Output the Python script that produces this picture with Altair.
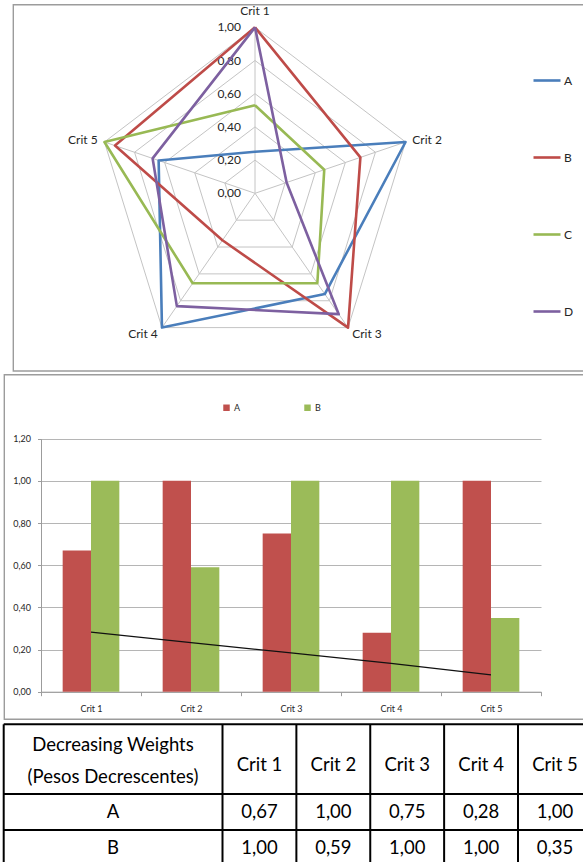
import altair as alt
import pandas as pd

# ---------------------------------------------------------------- data
CRITS = ["Crit 1", "Crit 2", "Crit 3", "Crit 4", "Crit 5"]

# radar profiles
RADAR_SERIES = ["A", "B", "C", "D"]
RADAR_A = [0.25, 1.00, 0.75, 1.00, 0.64]
RADAR_B = [1.00, 0.70, 1.00, 0.35, 0.93]
RADAR_C = [0.53, 0.46, 0.67, 0.67, 1.00]
RADAR_D = [1.00, 0.21, 0.90, 0.84, 0.68]
RADAR_COLORS = ["#4A7EBB", "#BE4B48", "#98B954", "#7D60A0"]
RADAR_LEVELS = [0.0, 0.2, 0.4, 0.6, 0.8, 1.0]

# decreasing weights per criterion
BAR_SERIES = ["A", "B"]
WEIGHT_A = [0.67, 1.00, 0.75, 0.28, 1.00]
WEIGHT_B = [1.00, 0.59, 1.00, 1.00, 0.35]
TREND = [0.283, 0.233, 0.184, 0.134, 0.080]
BAR_COLORS = ["#C0504D", "#9BBB59"]
BAR_TICKS = [0.0, 0.2, 0.4, 0.6, 0.8, 1.0, 1.2]

HEADER = ["Decreasing Weights", "(Pesos Decrescentes)"]

FONT = "Lato"
TEXT = "#262626"
FRAME = "#9C9C9C"
COMMA = "replace(format({v}, '.2f'), '.', ',')"

# ---------------------------------------------------------------- tables
radar_rows = []
for s, vals in zip(RADAR_SERIES, [RADAR_A, RADAR_B, RADAR_C, RADAR_D]):
    for i in range(len(CRITS) + 1):  # repeat first point to close the polygon
        radar_rows.append({"series": s, "idx": i, "value": vals[i % len(CRITS)]})
radar_df = pd.DataFrame(radar_rows)

grid_df = pd.DataFrame(
    [{"level": lv, "idx": i} for lv in RADAR_LEVELS[1:] for i in range(len(CRITS) + 1)]
)
level_df = pd.DataFrame({"level": RADAR_LEVELS})
crit_df = pd.DataFrame({"crit": CRITS, "idx": list(range(len(CRITS)))})

bar_df = pd.DataFrame(
    [{"crit": c, "series": "A", "value": v} for c, v in zip(CRITS, WEIGHT_A)]
    + [{"crit": c, "series": "B", "value": v} for c, v in zip(CRITS, WEIGHT_B)]
)
trend_df = pd.DataFrame({"crit": CRITS, "weight": TREND})
row_df = pd.DataFrame({"row": BAR_SERIES})

ANGLE = "PI / 2 - 2 * PI * datum.idx / 5"

# ---------------------------------------------------------------- frames
one = alt.Data(values=[{}])
frame_top = alt.Chart(one).mark_rect(fillOpacity=0, stroke=FRAME, strokeWidth=1.4).encode(
    x=alt.value(13.3), x2=alt.value(640), y=alt.value(4.7), y2=alt.value(371)
)
frame_bar = alt.Chart(one).mark_rect(fillOpacity=0, stroke=FRAME, strokeWidth=1.4).encode(
    x=alt.value(4.3), x2=alt.value(640), y=alt.value(374.7), y2=alt.value(719.3)
)

# ---------------------------------------------------------------- radar
RX = alt.Scale(domain=[-1, 1], range=[96.7, 413.3], nice=False, zero=False)
RY = alt.Scale(domain=[-1, 1], range=[359.3, 27.3], nice=False, zero=False)


def rx(f):
    return alt.X(f, type="quantitative", scale=RX, axis=None)


def ry(f):
    return alt.Y(f, type="quantitative", scale=RY, axis=None)


grid = (
    alt.Chart(grid_df)
    .transform_calculate(angle=ANGLE)
    .transform_calculate(px="datum.level * cos(datum.angle)", py="datum.level * sin(datum.angle)")
    .mark_line(color="#C4C4C4", strokeWidth=1)
    .encode(x=rx("px"), y=ry("py"), detail="level:N", order="idx:Q")
)

spokes = (
    alt.Chart(crit_df)
    .transform_calculate(angle=ANGLE, cx="0", cy="0")
    .transform_calculate(px="cos(datum.angle)", py="sin(datum.angle)")
    .mark_rule(color="#C4C4C4", strokeWidth=1)
    .encode(x=rx("cx"), y=ry("cy"), x2="px:Q", y2="py:Q")
)

level_labels = (
    alt.Chart(level_df)
    .transform_calculate(cx="0", label=COMMA.format(v="datum.level"))
    .mark_text(font=FONT, fontSize=12, color=TEXT, align="right", baseline="middle", dx=-14)
    .encode(x=rx("cx"), y=ry("level"), text="label:N")
)


def crit_labels(filter_expr, align, radius):
    return (
        alt.Chart(crit_df)
        .transform_filter(filter_expr)
        .transform_calculate(angle=ANGLE)
        .transform_calculate(
            px=f"{radius} * cos(datum.angle)", py=f"{radius} * sin(datum.angle)"
        )
        .mark_text(font=FONT, fontSize=12, color=TEXT, align=align, baseline="middle")
        .encode(x=rx("px"), y=ry("py"), text="crit:N")
    )


lab_top = crit_labels("datum.idx == 0", "center", 1.1)
lab_right = crit_labels("datum.idx == 1 || datum.idx == 2", "left", 1.045)
lab_left = crit_labels("datum.idx == 3 || datum.idx == 4", "right", 1.045)

radar_lines = (
    alt.Chart(radar_df)
    .transform_calculate(angle=ANGLE)
    .transform_calculate(px="datum.value * cos(datum.angle)", py="datum.value * sin(datum.angle)")
    .mark_line(strokeWidth=2.6, strokeJoin="round")
    .encode(
        x=rx("px"),
        y=ry("py"),
        order="idx:Q",
        color=alt.Color(
            "series:N",
            scale=alt.Scale(domain=RADAR_SERIES, range=RADAR_COLORS),
            legend=alt.Legend(
                orient="none",
                legendX=532,
                legendY=65.5,
                direction="vertical",
                title=None,
                symbolType="stroke",
                symbolSize=729,
                symbolStrokeWidth=2.6,
                rowPadding=56,
                labelFont=FONT,
                labelFontSize=12,
                labelColor=TEXT,
                labelOffset=2,
                padding=0,
            ),
        ),
    )
)

radar = alt.layer(grid, spokes, level_labels, lab_top, lab_right, lab_left, radar_lines)

# ---------------------------------------------------------------- bars
BX = alt.Scale(domain=CRITS, range=[41, 541], paddingInner=0, paddingOuter=0)
BY = alt.Scale(domain=[0, 1.2], range=[691.7, 438.7], nice=False)

bar_y_axis = alt.Axis(
    values=BAR_TICKS,
    labelExpr=COMMA.format(v="datum.value"),
    offset=-41,
    grid=True,
    gridColor="#B5B5B5",
    gridWidth=1,
    domainColor=FRAME,
    domainWidth=1,
    tickColor=FRAME,
    tickSize=3.5,
    labelPadding=7,
    labelFont=FONT,
    labelFontSize=9,
    labelColor=TEXT,
    title=None,
)
bar_x_axis = alt.Axis(
    orient="bottom",
    offset=-(862 - 691.7),
    tickBand="extent",
    grid=False,
    domainColor=FRAME,
    domainWidth=1,
    tickColor=FRAME,
    tickSize=4,
    labelPadding=9,
    labelAngle=0,
    labelFont=FONT,
    labelFontSize=9,
    labelColor=TEXT,
    title=None,
)

bars = (
    alt.Chart(bar_df)
    .mark_bar()
    .encode(
        x=alt.X("crit:N", scale=BX, axis=bar_x_axis, sort=CRITS),
        xOffset=alt.XOffset(
            "series:N", scale=alt.Scale(domain=BAR_SERIES, paddingInner=0, paddingOuter=0.765)
        ),
        y=alt.Y("value:Q", scale=BY, axis=bar_y_axis),
        color=alt.Color(
            "series:N",
            scale=alt.Scale(domain=BAR_SERIES, range=BAR_COLORS),
            legend=alt.Legend(
                orient="none",
                legendX=222,
                legendY=403,
                direction="horizontal",
                title=None,
                symbolType="square",
                symbolSize=42,
                symbolStrokeWidth=0,
                columnPadding=62,
                labelFont=FONT,
                labelFontSize=9,
                labelColor=TEXT,
                labelOffset=3,
                padding=0,
            ),
        ),
    )
)

trend = (
    alt.Chart(trend_df)
    .mark_line(color="#111111", strokeWidth=1.2)
    .encode(
        x=alt.X("crit:N", scale=BX, axis=bar_x_axis, sort=CRITS),
        y=alt.Y("weight:Q", scale=BY, axis=bar_y_axis),
    )
)

bar_chart = alt.layer(bars, trend)

# ---------------------------------------------------------------- table
TX = alt.Scale(type="point", domain=CRITS, range=[259.5, 555], padding=0)
TY = alt.Scale(type="point", domain=BAR_SERIES, range=[812, 848], padding=0)

cell_df = pd.DataFrame(
    [{"row": "A", "crit": c, "value": v} for c, v in zip(CRITS, WEIGHT_A)]
    + [{"row": "B", "crit": c, "value": v} for c, v in zip(CRITS, WEIGHT_B)]
)

text_style = dict(font=FONT, fontSize=18.5, color="#000000", baseline="middle", align="center")

head_crit = alt.Chart(crit_df).mark_text(**text_style).encode(
    x=alt.X("crit:N", scale=TX, axis=None), y=alt.value(765), text="crit:N"
)
head_1 = alt.Chart(one).mark_text(**text_style).encode(
    x=alt.value(113), y=alt.value(745), text=alt.value(HEADER[0])
)
head_2 = alt.Chart(one).mark_text(**text_style).encode(
    x=alt.value(113), y=alt.value(777), text=alt.value(HEADER[1])
)
row_labels = alt.Chart(row_df).mark_text(**text_style).encode(
    x=alt.value(113), y=alt.Y("row:N", scale=TY, axis=None), text="row:N"
)
cells = (
    alt.Chart(cell_df)
    .transform_calculate(label=COMMA.format(v="datum.value"))
    .mark_text(**text_style)
    .encode(
        x=alt.X("crit:N", scale=TX, axis=None),
        y=alt.Y("row:N", scale=TY, axis=None),
        text="label:N",
    )
)

line_style = dict(color="#000000", strokeWidth=2)
col_rules = alt.Chart(crit_df).mark_rule(xOffset=-37, **line_style).encode(
    x=alt.X("crit:N", scale=TX, axis=None), y=alt.value(724.3), y2=alt.value(880)
)
row_rules = alt.Chart(row_df).mark_rule(yOffset=-18, **line_style).encode(
    y=alt.Y("row:N", scale=TY, axis=None), x=alt.value(3.7), x2=alt.value(640)
)
top_rule = alt.Chart(one).mark_rule(**line_style).encode(
    y=alt.value(724.3), x=alt.value(3.7), x2=alt.value(640)
)
left_rule = alt.Chart(one).mark_rule(**line_style).encode(
    x=alt.value(3.7), y=alt.value(724.3), y2=alt.value(880)
)

table = alt.layer(col_rules, row_rules, top_rule, left_rule, head_crit, head_1, head_2, row_labels, cells)

# ---------------------------------------------------------------- page
chart = (
    alt.layer(frame_top, frame_bar, radar, bar_chart, table)
    .resolve_scale(x="independent", y="independent", color="independent")
    .properties(width=583, height=862, padding=0, autosize="none", background="white")
    .configure_view(stroke=None)
)

chart.save("out.html", embed_options={"renderer": "svg", "actions": False})
